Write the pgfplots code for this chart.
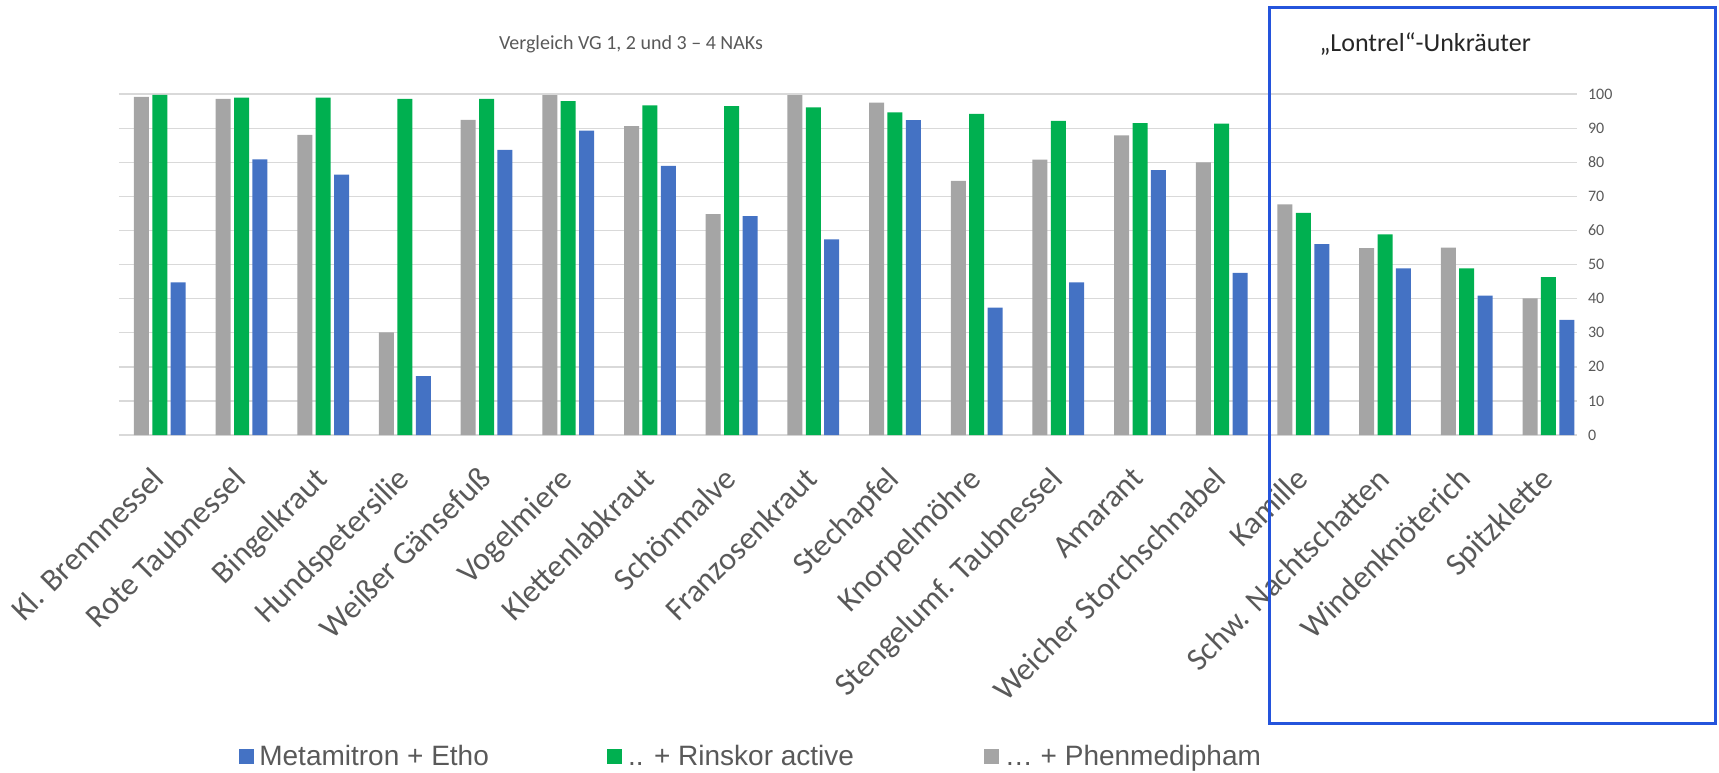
\documentclass[border=0pt]{standalone}
\usepackage{fontspec}
\setmainfont{Carlito}
\newfontfamily\arial{Liberation Sans}
\usepackage{pgfplots}
\usepackage{pgfplotstable}
\pgfplotsset{compat=1.18}

\definecolor{cgray}{HTML}{A5A5A5}
\definecolor{cgreen}{HTML}{00B050}
\definecolor{cblue}{HTML}{4472C4}
\definecolor{ctext}{HTML}{595959}
\definecolor{cgrid}{HTML}{D9D9D9}
\definecolor{cbox}{RGB}{36,84,220}

% x, ... + Phenmedipham, .. + Rinskor active, Metamitron + Etho
\pgfplotstableread{
x gray green blue
0  99.2 99.8 44.8
1  98.6 99.0 80.9
2  88.1 99.0 76.4
3  30.1 98.6 17.3
4  92.5 98.6 83.7
5  99.7 98.0 89.3
6  90.6 96.7 79.0
7  64.8 96.5 64.2
8  99.7 96.1 57.4
9  97.5 94.7 92.4
10 74.6 94.2 37.4
11 80.8 92.2 44.8
12 87.9 91.5 77.7
13 80.0 91.4 47.6
14 67.7 65.2 56.0
15 54.8 58.9 48.9
16 55.0 48.9 40.9
17 40.1 46.3 33.8
}\weeds

\begin{document}
\begin{tikzpicture}
\path[use as bounding box] (0,0) rectangle (859.5pt,386pt);

\begin{axis}[
    at={(59.5pt,168.5pt)}, anchor=south west,
    scale only axis,
    width=729pt, height=170.4pt,
    ybar, bar width=7.5pt,
    xmin=-0.5, xmax=17.35,
    ymin=0, ymax=100,
    ytick={0,10,...,100},
    xtick=data,
    xticklabels={Kl. Brennnessel, Rote Taubnessel, Bingelkraut, Hundspetersilie,
        Weißer Gänsefuß, Vogelmiere, Klettenlabkraut, Schönmalve, Franzosenkraut,
        Stechapfel, Knorpelmöhre, Stengelumf. Taubnessel, Amarant,
        Weicher Storchschnabel, Kamille, Schw. Nachtschatten, Windenknöterich, Spitzklette},
    x tick label style={font=\fontsize{16}{18}\selectfont, text=ctext, inner sep=1pt,
        xshift=-4.9pt, yshift=-13.5pt, rotate=45, anchor=north east},
    yticklabel pos=right,
    y tick label style={font=\fontsize{8}{10}\selectfont, text=ctext, anchor=west, xshift=2pt},
    /pgf/number format/assume math mode=true,
    axis line style={draw=none},
    major tick length=0pt,
    ymajorgrids, grid style={cgrid, line width=0.7pt},
    clip=false,
    legend columns=3,
    legend style={draw=none, fill=none, font=\arial\fontsize{14}{16}\selectfont,
        text=ctext, at={(0.0776,-0.943)}, anchor=west,
        /tikz/every odd column/.append style={column sep=1pt}},
]
\addplot[fill=cgray, draw=none, bar shift=-9.2pt, forget plot] table[x=x, y=gray] {\weeds};
\addplot[fill=cgreen, draw=none, bar shift=0pt, forget plot] table[x=x, y=green] {\weeds};
\addplot[fill=cblue, draw=none, bar shift=9.2pt, forget plot] table[x=x, y=blue] {\weeds};

\addlegendimage{legend image code/.code={\fill[cblue] (0pt,-3.5pt) rectangle (7pt,3.5pt);}}
\addlegendentry{\makebox[172pt][l]{Metamitron + Etho}}
\addlegendimage{legend image code/.code={\fill[cgreen] (0pt,-3.5pt) rectangle (7pt,3.5pt);}}
\addlegendentry{\makebox[176pt][l]{.. + Rinskor active}}
\addlegendimage{legend image code/.code={\fill[cgray] (0pt,-3.5pt) rectangle (7pt,3.5pt);}}
\addlegendentry{… + Phenmedipham}
\end{axis}

\node[text=ctext, font=\fontsize{10}{12}\selectfont] at (315.5pt,364pt) {Vergleich VG 1, 2 und 3 – 4 NAKs};
\draw[cbox, line width=1.6pt] (634.8pt,24.2pt) rectangle (857.9pt,382.2pt);
\node[text=black!85, font=\fontsize{13}{15}\selectfont] at (712.6pt,364pt) {„Lontrel“-Unkräuter};
\end{tikzpicture}
\end{document}
